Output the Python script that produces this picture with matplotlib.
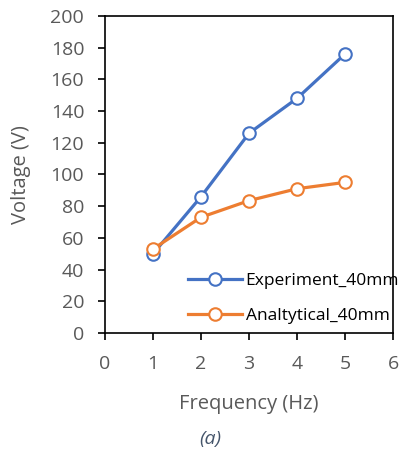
import matplotlib.pyplot as plt

plt.rcParams['font.family'] = ['Open Sans', 'DejaVu Sans']

# Frequency sweep results
freq = [1, 2, 3, 4, 5]
v_experiment = [50, 86, 126, 148, 176]
v_analytical = [53, 73, 83.5, 91, 95]

xticks = [0, 1, 2, 3, 4, 5, 6]
yticks = [0, 20, 40, 60, 80, 100, 120, 140, 160, 180, 200]

grey = '#595959'

fig = plt.figure(figsize=(4.04, 4.57), dpi=100)
ax = fig.add_axes([0.26, 0.2713, 0.713, 0.694])

ax.plot(freq, v_experiment, color='#4472C4', lw=2.3, marker='o', ms=9,
        mfc='white', mec='#4472C4', mew=1.5, label='Experiment_40mm', zorder=3)
ax.plot(freq, v_analytical, color='#ED7D31', lw=2.3, marker='o', ms=9,
        mfc='white', mec='#ED7D31', mew=1.5, label='Analtytical_40mm', zorder=4)

ax.set_xlim(0, 6)
ax.set_ylim(0, 200)
ax.set_xticks(xticks)
ax.set_yticks(yticks)
ax.tick_params(axis='both', direction='out', length=5, width=1.2,
               colors='black', labelcolor=grey, labelsize=14)
ax.tick_params(axis='x', pad=11)
ax.tick_params(axis='y', pad=10)
for s in ax.spines.values():
    s.set_color('black')
    s.set_linewidth(1.2)

ax.set_xlabel('Frequency (Hz)', color=grey, fontsize=14.5, labelpad=15)
ax.set_ylabel('Voltage (V)', color=grey, fontsize=14.5, labelpad=14)

leg = ax.legend(loc='lower right', frameon=False, fontsize=12.5,
                handlelength=3.1, labelspacing=1.1, handletextpad=0.2,
                borderaxespad=0.0, bbox_to_anchor=(1.045, 0.005))
for t in leg.get_texts():
    t.set_color('black')

fig.text(0.52, 0.039, '(a)', color='#44546A', fontsize=14,
         style='italic', ha='center', va='center')

fig.savefig('out.png', dpi=100)
